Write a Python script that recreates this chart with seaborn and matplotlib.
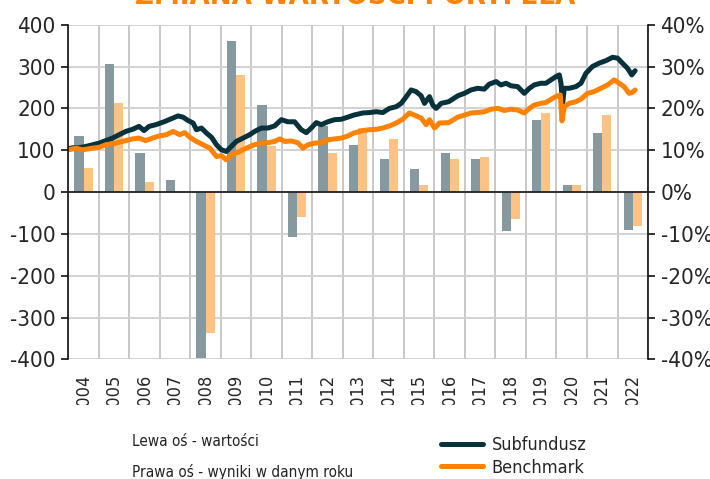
import numpy as np
import pandas as pd
import matplotlib
matplotlib.use("Agg")
import matplotlib.pyplot as plt
from matplotlib.ticker import FuncFormatter
from matplotlib.transforms import Bbox, TransformedBbox
import seaborn as sns

sns.set_style("white")
plt.rcParams['font.family'] = ['DejaVu Sans']
plt.rcParams['font.stretch'] = 'condensed'
plt.rcParams['axes.unicode_minus'] = False

# -------------------------
# Data
# -------------------------
years = [str(y) for y in range(2004, 2023)]

# annual results, % (right axis)
fund_returns = [13.4, 30.6, 9.4, 2.9, -39.6, 36.0, 20.9, -10.7, 15.7, 11.3,
                8.0, 5.5, 9.4, 8.0, -9.4, 17.2, 1.7, 14.2, -9.0]
bench_returns = [5.7, 21.4, 2.5, 0.0, -33.6, 28.0, 11.0, -6.0, 9.4, 15.2,
                 12.6, 1.7, 7.9, 8.4, -6.4, 18.9, 1.7, 18.4, -8.2]

# value of the fund (left axis)
fund_dates = ["2004-01-02", "2004-02-22", "2004-05-10", "2004-07-29", "2004-10-18",
              "2005-01-06", "2005-03-25", "2005-06-14", "2005-09-01", "2005-11-21",
              "2006-02-09", "2006-04-27", "2006-06-26", "2006-08-25", "2006-11-14",
              "2007-02-21", "2007-06-08", "2007-08-07", "2007-10-06", "2007-12-05",
              "2008-02-03", "2008-03-14", "2008-05-13", "2008-07-12", "2008-09-10",
              "2008-11-09", "2009-01-08", "2009-03-07", "2009-05-06", "2009-07-05",
              "2009-09-23", "2009-12-12", "2010-02-10", "2010-04-30", "2010-07-18",
              "2010-10-06", "2010-12-26", "2011-03-13", "2011-06-02", "2011-08-21",
              "2011-10-20", "2011-12-18", "2012-02-17", "2012-04-16", "2012-07-04",
              "2012-09-23", "2012-12-12", "2013-02-28", "2013-05-11", "2013-08-27",
              "2013-11-15", "2014-02-04", "2014-04-23", "2014-07-12", "2014-10-01",
              "2014-11-30", "2015-01-29", "2015-03-28", "2015-05-27", "2015-07-26",
              "2015-09-04", "2015-11-03", "2015-12-12", "2016-01-22", "2016-03-21",
              "2016-06-20", "2016-10-06", "2016-12-26", "2017-03-14", "2017-06-02",
              "2017-08-21", "2017-10-20", "2018-01-09", "2018-03-08", "2018-05-07",
              "2018-07-06", "2018-09-23", "2018-12-12", "2019-02-11", "2019-04-10",
              "2019-06-29", "2019-08-28", "2019-10-27", "2019-12-26", "2020-02-04",
              "2020-02-24", "2020-03-14", "2020-04-03", "2020-06-02", "2020-08-21",
              "2020-10-20", "2020-12-19", "2021-03-07", "2021-05-26", "2021-08-15",
              "2021-11-03", "2022-01-02", "2022-03-01", "2022-04-30", "2022-06-21",
              "2022-07-31"]
fund_values = [103, 106, 106, 109, 113, 117, 123, 129, 137, 145,
               150, 157, 147, 157, 161, 168, 177, 182, 179, 171,
               165, 149, 153, 141, 131, 113, 101, 97, 109, 121,
               129, 137, 145, 153, 153, 158, 173, 168, 168, 149,
               142, 153, 166, 161, 168, 173, 174, 179, 184, 189,
               190, 192, 190, 200, 204, 212, 228, 244, 240, 230,
               212, 228, 208, 200, 212, 216, 230, 236, 244, 248,
               246, 258, 264, 256, 260, 254, 252, 236, 248, 256,
               260, 260, 268, 276, 280, 260, 210, 248, 248, 252,
               260, 284, 300, 308, 314, 322, 320, 308, 296, 280,
               290]

# value of the benchmark (left axis)
bench_dates = ["2004-01-02", "2004-04-01", "2004-06-20", "2004-10-18", "2005-01-06",
               "2005-03-25", "2005-07-22", "2005-11-21", "2006-02-09", "2006-04-27",
               "2006-07-16", "2006-10-05", "2006-12-23", "2007-03-20", "2007-06-08",
               "2007-08-27", "2007-10-26", "2007-12-25", "2008-03-14", "2008-06-01",
               "2008-08-20", "2008-11-09", "2009-01-08", "2009-03-07", "2009-05-06",
               "2009-08-13", "2009-11-03", "2010-01-21", "2010-04-30", "2010-07-18",
               "2010-10-06", "2010-12-06", "2011-02-04", "2011-04-24", "2011-07-11",
               "2011-09-10", "2011-11-09", "2012-01-28", "2012-04-16", "2012-07-04",
               "2012-09-23", "2012-12-12", "2013-02-28", "2013-05-11", "2013-08-27",
               "2013-11-15", "2014-02-04", "2014-04-23", "2014-07-12", "2014-10-01",
               "2014-12-18", "2015-03-07", "2015-05-27", "2015-07-26", "2015-09-24",
               "2015-11-03", "2016-01-02", "2016-03-01", "2016-06-20", "2016-10-06",
               "2016-12-26", "2017-03-14", "2017-06-02", "2017-08-21", "2017-11-10",
               "2018-01-28", "2018-04-16", "2018-07-06", "2018-09-23", "2018-12-12",
               "2019-02-11", "2019-04-10", "2019-06-29", "2019-08-28", "2019-11-16",
               "2020-01-15", "2020-02-16", "2020-03-07", "2020-04-03", "2020-06-02",
               "2020-08-21", "2020-10-20", "2021-01-08", "2021-03-27", "2021-06-16",
               "2021-09-04", "2021-11-23", "2022-01-22", "2022-03-21", "2022-05-19",
               "2022-06-28", "2022-07-31"]
bench_values = [101, 105, 101, 105, 107, 113, 117, 123, 127, 129,
                123, 129, 134, 137, 145, 137, 142, 131, 121, 113,
                105, 85, 87, 77, 89, 97, 105, 112, 117, 118,
                121, 127, 121, 122, 118, 105, 113, 117, 118, 125,
                127, 129, 134, 141, 147, 149, 150, 153, 158, 165,
                174, 189, 182, 177, 161, 173, 153, 165, 166, 179,
                184, 189, 190, 192, 198, 200, 195, 198, 196, 189,
                200, 208, 212, 214, 224, 230, 232, 170, 204, 212,
                216, 222, 236, 240, 248, 256, 268, 260, 252, 236,
                238, 244]

bars = pd.DataFrame({
    'rok': years * 2,
    'wynik': fund_returns + bench_returns,
    'seria': ['Subfundusz'] * len(years) + ['Benchmark'] * len(years),
})


def to_pos(dates):
    # date -> position on the categorical year axis (category i spans i-0.5 .. i+0.5)
    d = pd.to_datetime(pd.Series(dates))
    return (d.dt.year + (d.dt.dayofyear - 1) / 365.25 - 2004.5).to_numpy()


# -------------------------
# Figure
# -------------------------
fig = plt.figure(figsize=(7.1, 4.79), dpi=100)
ax = fig.add_axes([0.0962, 0.2495, 0.8165, 0.699])   # values, left axis
ax2 = ax.twinx()                                     # annual results, right axis
ax.set_zorder(ax2.get_zorder() + 1)
ax.patch.set_visible(False)

# bars
sns.barplot(data=bars, x='rok', y='wynik', hue='seria',
            palette=['#86999F', '#FFC285'], width=0.6, gap=0, linewidth=0,
            saturation=1, errorbar=None, legend=False, ax=ax2)
ax2.set_ylim(-40, 40)
ax2.set_yticks(range(-40, 41, 10))
ax2.yaxis.set_major_formatter(FuncFormatter(lambda v, p: f"{v:.0f}%"))
ax2.set_xlabel("")
ax2.set_ylabel("")

# lines
l1 = sns.lineplot(x=to_pos(fund_dates), y=fund_values, color='#07323C',
                  lw=3.6, estimator=None, ax=ax).lines[-1]
l2 = sns.lineplot(x=to_pos(bench_dates), y=bench_values, color='#FF8200',
                  lw=3.6, estimator=None, ax=ax).lines[-1]
ax.set_ylim(-400, 400)
ax.set_yticks(range(-400, 401, 100))
ax.set_xlim(-0.5, len(years) - 0.5)

# x axis: zero line with boundary ticks on ax, year labels on ax2
ax.set_xticks(range(len(years)))
ax.set_xticks(np.arange(-0.5, len(years), 1), minor=True)
ax.spines['bottom'].set_position(('data', 0))
ax.spines['bottom'].set_color('#222222')
ax.spines['bottom'].set_linewidth(1.3)
ax.tick_params(axis='x', which='major', length=0, labelbottom=False)
ax.tick_params(axis='x', which='minor', length=5, width=1.3, color='#222222', direction='out')
for s in ['top', 'right']:
    ax.spines[s].set_visible(False)
ax.spines['left'].set_color('#111111')
ax.spines['left'].set_linewidth(1.2)
ax.tick_params(axis='y', length=5, width=1.2, color='#111111', labelsize=16, pad=4)

ax2.xaxis.set_visible(True)
ax2.set_xticks(range(len(years)))
ax2.set_xticklabels(years, rotation=90)
ax2.tick_params(axis='x', which='both', length=0, labelsize=13, pad=10)
for s in ['top', 'bottom', 'left']:
    ax2.spines[s].set_visible(False)
ax2.spines['right'].set_color('#111111')
ax2.spines['right'].set_linewidth(1.2)
ax2.tick_params(axis='y', length=5, width=1.2, color='#111111', labelsize=16, pad=4)

ax2.set_axisbelow(True)
ax2.grid(axis='y', which='major', color='#CFCFCF', lw=1.3)
ax2.grid(axis='x', which='minor', color='#C4C4C4', lw=1.3)
ax2.grid(axis='x', which='major', visible=False)

# year labels are cut off at the bottom in the original
clip = TransformedBbox(Bbox([[0, 0.1545], [1, 1]]), fig.transFigure)
for lab in ax2.get_xticklabels():
    lab.set_clip_box(clip)
    lab.set_clip_on(True)

# title (mostly outside the picture)
fig.text(0.50, 1 - 4 / 479, "ZMIANA WARTOŚCI PORTFELA", color='#FF8200',
         fontsize=21, fontweight='bold', ha='center', va='baseline')

# legend area
fig.text(132 / 710, 1 - 441 / 479, "Lewa oś - wartości", fontsize=11,
         color='#222222', va='center', ha='left')
fig.text(132 / 710, 1 - 472 / 479, "Prawa oś - wyniki w danym roku", fontsize=11,
         color='#222222', va='center', ha='left')
fig.legend([l1, l2], ['Subfundusz', 'Benchmark'], loc='upper left',
           bbox_to_anchor=(441 / 710, 1 - 436 / 479), frameon=False,
           fontsize=13, handlelength=2.3, handletextpad=0.5,
           labelspacing=0.25, borderpad=0, borderaxespad=0)

fig.savefig("out.png", dpi=100)
